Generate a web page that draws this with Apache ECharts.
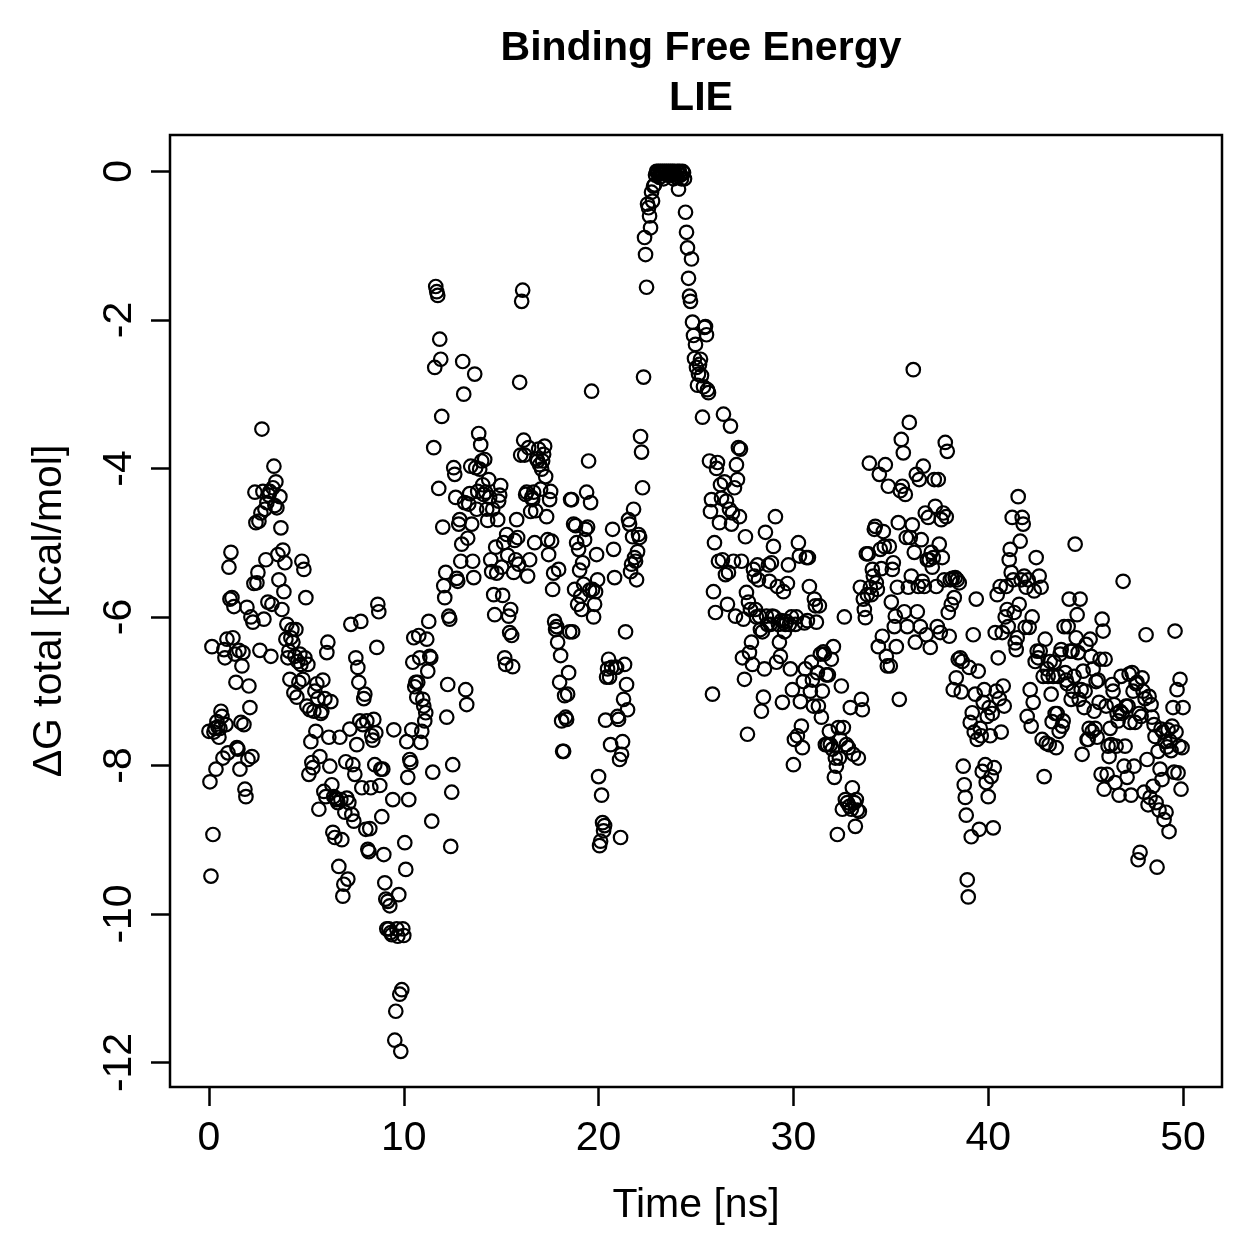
<!DOCTYPE html>
<html>
<head>
<meta charset="utf-8">
<title>Binding Free Energy - LIE</title>
<script src="https://cdn.jsdelivr.net/npm/echarts@6/dist/echarts.min.js"></script>
<style>
    html, body { margin: 0; padding: 0; background: #fff; }
    #chart { width: 1259px; height: 1259px; }
</style>
</head>
<body>
<div id="chart"></div>
<script>
// time axis: frames sampled evenly from tStart to tEnd [ns]
var tStart = 0;
var tEnd = 50;

// dG total [kcal/mol] in time order
var dgPartA = [
    -7.54, -8.22, -9.49, -6.4, -8.93, -7.55, -7.5, -8.05, -7.41, -7.48, -7.62, -7.5, -7.27, -7.34, -7.9, -6.44, -6.55, -7.45, -6.3, -7.83,
    -5.33, -5.76, -5.13, -5.74, -6.28, -5.86, -6.5, -6.88, -7.76, -7.78, -6.45, -8.05, -7.42, -6.66, -6.48, -7.45, -8.32, -8.42, -5.87, -7.92,
    -6.93, -7.22, -6.0, -7.88, -6.07, -5.55, -4.32, -4.73, -5.54, -5.4, -4.71, -6.45, -4.6, -3.47, -4.31, -6.03, -4.55, -5.23, -4.46, -5.8,
    -4.36, -4.31, -6.53, -5.83, -4.26, -3.97, -4.5, -4.18, -4.53, -5.16, -5.5, -4.38, -4.8, -5.9, -5.1, -5.66, -5.27, -6.3, -6.1, -6.55,
    -6.46, -6.84, -6.28, -6.17, -6.34, -7.02, -6.53, -6.17, -7.08, -6.6, -6.88, -6.5, -6.64, -5.25, -6.84, -5.36, -6.55, -5.74, -7.2, -6.64,
    -8.12, -7.25, -7.68, -7.96, -8.03, -7.27, -7.0, -7.54, -6.9, -7.1, -8.59, -7.88, -7.3, -7.27, -6.85, -8.35, -7.1, -8.42, -6.48, -6.34,
    -7.62, -8.01, -7.14, -8.26, -8.9, -8.42, -8.97, -8.45, -8.46, -8.5, -9.36, -7.62, -8.46, -9.0, -9.76, -9.6, -8.63, -7.95, -8.44, -9.53,
    -8.5, -7.51, -6.1, -8.66, -7.99, -8.75, -8.12, -6.55, -7.72, -6.68, -6.88, -7.4, -6.06, -8.3, -7.45, -7.1, -7.04, -8.86, -7.4, -9.13,
    -9.16, -8.85, -8.3, -7.6, -7.66, -7.38, -7.99, -7.56, -6.41, -5.83, -5.93, -8.27, -8.05, -8.69, -8.05, -9.2, -9.58, -9.8, -10.2, -9.83,
    -10.2, -9.89, -10.25, -10.28, -8.46, -7.52, -11.7, -11.31, -10.2, -10.3, -9.74, -11.08, -11.85, -11.02, -10.2, -10.29, -9.04, -9.4, -7.68, -8.16
];
var dgPartB = [
    -8.46, -7.92, -7.96, -7.52, -6.61, -6.28, -6.94, -6.88, -7.08, -6.88, -6.25, -6.55, -7.69, -7.54, -7.11, -7.2, -7.4, -7.29, -6.3, -6.73,
    -6.06, -6.53, -6.55, -8.75, -8.09, -3.72, -2.64, -1.55, -1.62, -1.67, -4.27, -2.26, -2.53, -3.3, -4.79, -5.58, -5.74, -5.4, -7.35, -6.91,
    -5.99, -6.03, -9.09, -8.36, -7.99, -3.99, -4.08, -4.39, -5.48, -5.52, -4.75, -4.69, -5.25, -5.02, -2.56, -3.0, -4.46, -6.98, -7.18, -4.94,
    -4.48, -4.34, -3.97, -4.75, -5.25, -5.47, -2.73, -3.99, -4.55, -4.31, -3.53, -4.01, -3.68, -3.9, -4.22, -4.35, -3.88, -4.32, -4.55, -4.7,
    -4.15, -4.39, -5.23, -5.39, -4.55, -5.7, -5.97, -5.06, -5.41, -4.69, -4.44, -4.36, -4.23, -5.33, -5.71, -5.0, -6.55, -6.64, -4.89, -5.17,
    -5.99, -6.21, -5.9, -6.25, -6.67, -5.4, -4.97, -5.23, -4.69, -4.93, -5.29, -2.84, -3.82, -1.75, -1.6, -3.62, -3.82, -4.35, -4.32, -5.45,
    -3.72, -5.23, -4.58, -4.39, -4.42, -4.32, -5.0, -4.57, -3.87, -3.9, -3.74, -3.95, -4.28, -4.01, -3.9, -3.81, -3.7, -4.11, -4.65, -4.96,
    -5.16, -4.42, -4.31, -4.98, -5.63, -5.41, -6.06, -6.17, -6.13, -6.34, -5.36, -6.88, -6.52, -7.4, -7.81, -7.81, -7.06, -7.35, -7.38, -7.04,
    -6.75, -6.2, -4.42, -4.42, -6.2, -4.75, -5.63, -4.77, -5.0, -5.83, -5.09, -5.37, -5.72, -5.9, -5.27, -5.56, -4.96, -4.82, -4.32, -4.79,
    -3.9, -5.64, -4.46, -2.96, -5.63, -6.0, -5.83, -5.66, -5.16, -5.5, -8.15, -9.08, -9.02, -8.4, -8.77, -8.88, -8.81, -7.39, -6.81, -6.7
];
var dgPartC = [
    -6.57, -6.81, -7.72, -6.68, -4.82, -5.09, -5.47, -6.68, -6.68, -7.34, -7.38, -7.92, -8.97, -7.85, -7.68, -7.11, -6.64, -6.2, -6.91, -7.25,
    -4.69, -4.75, -5.39, -5.29, -4.92, -4.55, -5.2, -5.25, -5.5, -5.12, -4.89, -4.93, -3.57, -3.78, -4.26, -2.77, -0.89, -1.12, -1.56, -0.44,
    -0.49, -0.6, -0.76, -0.28, -0.4, -0.2, -0.18, -0.05, 0, -0.02, 0, -0.08, 0, -0.03, 0, -0.1, 0, -0.02, 0, -0.05,
    0, -0.02, 0, -0.05, 0, -0.1, 0, -0.03, -0.08, 0, -0.24, 0, -0.05, -0.1, 0, -0.02, -0.1, -0.55, -0.82, -1.03,
    -1.44, -1.68, -1.75, -1.18, -2.03, -2.21, -2.52, -2.33, -2.64, -2.88, -2.73, -2.6, -2.53, -2.75, -3.31, -2.9, -2.1, -2.09, -2.2, -2.94,
    -2.98, -3.9, -4.58, -4.42, -7.04, -5.66, -5.0, -5.94, -4.0, -3.92, -5.25, -4.73, -4.22, -4.4, -5.23, -3.27, -4.18, -5.43, -4.44, -5.83,
    -5.4, -4.55, -3.43, -4.75, -4.6, -5.25, -4.26, -5.99, -3.95, -4.15, -3.72, -4.65, -3.74, -5.25, -6.55, -6.03, -6.84, -4.92, -5.67, -7.58,
    -5.8, -6.48, -5.9, -6.34, -6.64, -5.36, -5.45, -5.9, -6.0, -5.3, -5.5, -5.99, -6.17, -7.27, -6.2, -7.08, -6.7, -4.86, -5.99, -6.1,
    -5.3, -5.52, -6.1, -5.27, -5.99, -5.05, -6.0, -4.65, -6.61, -5.59, -6.1, -6.34, -6.53, -6.05, -7.15, -5.66, -6.2, -6.1, -6.06, -5.55,
    -5.3, -6.1, -6.7, -6.0, -6.98, -7.99, -7.65, -6.1, -6.0, -7.6, -5.0, -5.18, -7.14, -7.47, -7.76, -6.87, -6.08, -6.7, -5.2, -6.05
];
var dgPartD = [
    -5.2, -5.59, -7.0, -6.61, -6.85, -7.2, -5.76, -5.85, -6.07, -6.75, -7.2, -5.85, -6.5, -7.35, -7.0, -6.47, -6.5, -7.72, -6.78, -7.72,
    -6.78, -7.54, -7.72, -6.57, -7.78, -6.4, -8.16, -7.9, -8.01, -8.93, -7.49, -7.9, -7.65, -6.93, -8.59, -7.49, -6.0, -8.46, -7.72, -8.5,
    -7.76, -8.55, -7.22, -8.59, -8.3, -7.85, -8.5, -8.82, -8.46, -8.6, -7.9, -8.62, -5.6, -7.11, -7.25, -5.76, -5.9, -6.01, -5.15, -5.7,
    -5.15, -3.93, -5.6, -5.7, -5.36, -5.45, -4.82, -4.78, -5.54, -5.63, -6.4, -4.08, -5.09, -5.35, -6.26, -4.85, -5.05, -3.95, -6.53, -6.66,
    -4.24, -5.05, -6.66, -5.8, -5.36, -5.27, -6.13, -5.99, -6.4, -5.6, -4.73, -7.11, -4.3, -3.61, -4.24, -3.79, -5.93, -4.35, -4.93, -6.13,
    -5.6, -3.38, -4.93, -5.45, -4.76, -2.67, -5.13, -6.34, -4.08, -5.93, -5.59, -4.15, -6.13, -4.96, -5.52, -3.97, -5.59, -4.6, -6.24, -5.23,
    -4.66, -5.23, -6.41, -5.13, -5.33, -5.2, -4.15, -4.51, -5.59, -6.13, -4.15, -5.02, -6.21, -4.69, -5.2, -4.6, -5.5, -3.65, -4.65, -3.77,
    -5.94, -6.26, -5.5, -5.83, -5.48, -6.98, -5.74, -5.47, -6.82, -5.5, -6.57, -5.54, -6.55, -7.01, -6.6, -8.01, -8.26, -8.43, -8.67, -9.54,
    -9.77, -6.68, -7.42, -8.96, -7.29, -6.24, -7.55, -7.04, -5.76, -7.65, -6.73, -8.86, -7.5, -7.6, -8.08, -7.15, -6.98, -7.99, -8.23, -7.34,
    -8.42, -7.22, -7.6, -8.15, -7.3, -8.84, -8.03, -6.21, -7.0, -5.7, -6.55, -7.1, -5.59, -7.55, -6.21, -6.93, -7.2, -6.0, -5.59, -5.9
];
var dgPartE = [
    -6.13, -5.23, -5.09, -5.4, -4.66, -5.5, -5.94, -6.35, -6.44, -6.28, -4.38, -5.83, -4.98, -5.5, -4.66, -4.75, -5.45, -6.14, -5.6, -7.34,
    -5.5, -6.14, -6.98, -7.47, -6.0, -7.15, -5.65, -6.6, -5.2, -6.46, -6.55, -5.45, -6.46, -5.6, -7.65, -6.8, -8.15, -6.3, -7.7, -6.7,
    -6.8, -7.72, -6.6, -7.04, -7.41, -6.8, -6.61, -7.3, -7.76, -7.3, -6.8, -7.54, -6.5, -6.44, -7.47, -7.4, -6.13, -6.75, -6.85, -6.9,
    -6.13, -5.76, -6.46, -7.11, -6.46, -7.0, -6.8, -5.02, -6.28, -5.97, -6.48, -7.11, -5.76, -6.98, -7.85, -6.73, -7.22, -7.0, -6.37, -7.65,
    -7.65, -7.5, -6.3, -6.53, -7.54, -6.7, -7.27, -7.5, -6.87, -7.62, -6.85, -7.15, -6.57, -8.12, -6.03, -6.19, -8.32, -6.57, -7.2, -8.12,
    -7.74, -7.88, -7.5, -7.72, -6.91, -7.0, -7.18, -8.23, -7.74, -7.3, -7.4, -8.4, -7.27, -6.8, -7.3, -5.52, -8.01, -7.74, -7.2, -8.16,
    -7.2, -6.77, -7.42, -8.4, -6.75, -7.0, -8.01, -7.42, -6.9, -6.88, -9.27, -7.3, -9.17, -7.34, -6.82, -7.0, -8.36, -7.1, -6.24, -7.92,
    -8.53, -7.07, -8.43, -7.18, -7.35, -8.28, -7.45, -7.61, -8.5, -9.37, -7.81, -8.6, -8.05, -7.51, -8.19, -7.55, -8.73, -7.68, -8.63, -7.75,
    -7.52, -8.89, -7.67, -7.8, -7.47, -7.22, -8.09, -6.19, -7.55, -6.98, -8.1, -7.74, -6.84, -8.32, -7.76, -7.22
];

// tick labels
var xTicks = [0, 10, 20, 30, 40, 50];
var yTicks = [0, -2, -4, -6, -8, -10, -12];

var FONT = '"Liberation Sans", Arial, Helvetica, sans-serif';

var dgTotal = [].concat(dgPartA, dgPartB, dgPartC, dgPartD, dgPartE);
var step = (tEnd - tStart) / (dgTotal.length - 1);
var points = [];
for (var i = 0; i < dgTotal.length; i++) {
    points.push([tStart + i * step, dgTotal[i]]);
}

var myChart = echarts.init(document.getElementById('chart'));

var option = {
    animation: false,
    backgroundColor: '#ffffff',
    title: {
        text: 'Binding Free Energy\nLIE',
        left: 696,
        top: 19,
        textAlign: 'center',
        textStyle: {
            fontFamily: FONT,
            fontSize: 41,
            fontWeight: 'bold',
            color: '#000',
            lineHeight: 50
        }
    },
    grid: {
        left: 170,
        right: 37,
        top: 135,
        bottom: 172,
        show: true,
        borderColor: '#000',
        borderWidth: 2.5,
        backgroundColor: 'transparent'
    },
    xAxis: {
        type: 'value',
        min: -2,
        max: 52,
        name: 'Time [ns]',
        nameLocation: 'middle',
        nameGap: 98,
        nameTextStyle: { fontFamily: FONT, fontSize: 41, color: '#000' },
        axisLine: { show: false, onZero: false },
        axisTick: {
            show: true,
            length: 19,
            customValues: xTicks,
            lineStyle: { color: '#000', width: 2.5 }
        },
        axisLabel: {
            customValues: xTicks,
            margin: 31,
            fontFamily: FONT,
            fontSize: 41,
            color: '#000'
        },
        splitLine: { show: false }
    },
    yAxis: {
        type: 'value',
        min: -12.33,
        max: 0.49,
        name: 'ΔG total [kcal/mol]',
        nameLocation: 'middle',
        nameRotate: 90,
        nameGap: 100,
        nameTextStyle: { fontFamily: FONT, fontSize: 41, color: '#000' },
        axisLine: { show: false, onZero: false },
        axisTick: {
            show: true,
            length: 19,
            customValues: yTicks,
            lineStyle: { color: '#000', width: 2.5 }
        },
        axisLabel: {
            customValues: yTicks,
            rotate: 90,
            margin: 30,
            fontFamily: FONT,
            fontSize: 41,
            color: '#000'
        },
        splitLine: { show: false }
    },
    series: [{
        type: 'scatter',
        data: points,
        symbol: 'circle',
        symbolSize: 13.5,
        silent: true,
        itemStyle: {
            color: 'rgba(0,0,0,0)',
            borderColor: '#000',
            borderWidth: 2.2,
            opacity: 1
        }
    }]
};

myChart.setOption(option);
</script>
</body>
</html>
